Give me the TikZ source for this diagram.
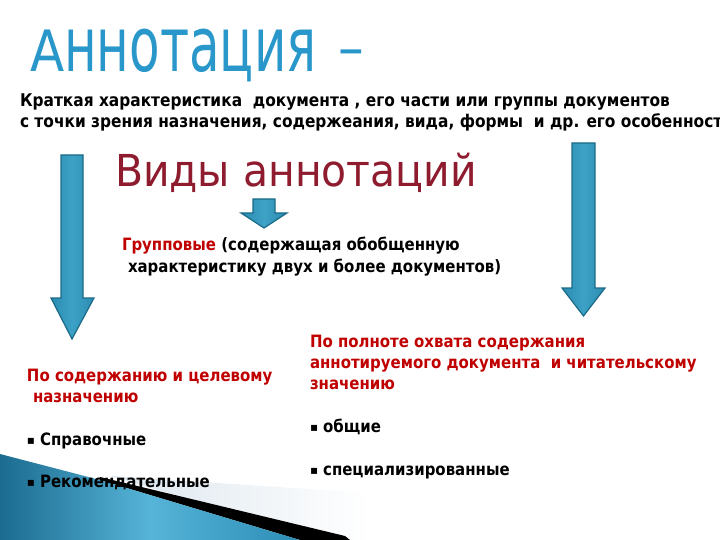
\documentclass[tikz,border=0pt]{standalone}
\usepackage{fontspec}
\setmainfont{DejaVu Sans}
\newfontfamily\titlefont{DejaVu Sans}
\newfontfamily\bodyfont{DejaVu Sans}[FakeStretch=0.88]
\newfontfamily\bulletfont{DejaVu Sans}
\definecolor{titleblue}{HTML}{2A97CB}
\definecolor{headred}{HTML}{8E1B2E}
\definecolor{accent}{HTML}{C00000}
\definecolor{arrowfill}{HTML}{2A8CB0}
\definecolor{arrowlight}{HTML}{3DA2C6}
\definecolor{arrowedge}{HTML}{1B6A87}
\definecolor{bandgrey}{HTML}{DCE6EE}
\definecolor{decodark}{HTML}{1B6C90}
\definecolor{decomid}{HTML}{56B4D8}
\definecolor{decoright}{HTML}{2D8DB5}
\tikzset{
  blockarrow/.style={left color=arrowfill, right color=arrowfill, middle color=arrowlight, draw=arrowedge, line width=1.2pt, line join=miter},
  txt/.style={anchor=base west, inner sep=0pt, outer sep=0pt},
  topline/.style={txt, font=\bodyfont\bfseries\fontsize{17.5}{20}\selectfont},
  body/.style={txt, font=\bodyfont\bfseries\fontsize{17}{20}\selectfont},
}
\newcommand{\sqb}{{\bulletfont\fontsize{12}{14}\selectfont\raisebox{1pt}{▪}}\hspace{5pt}}
\begin{document}
\begin{tikzpicture}[x=1pt,y=-1pt]
\useasboundingbox (0,0) rectangle (720,540);
\clip (0,0) rectangle (720,540);
\fill[white] (0,0) rectangle (720,540);

% bottom-left decoration
\shade[left color=bandgrey, right color=white] (110,476) -- (370,493) -- (370,540) -- (330,540) -- cycle;
\fill[black] (100,477) -- (345,536) -- (350,540) -- (300,540) -- (100,480) -- cycle;
\shade[left color=decodark, right color=decoright, middle color=decomid]
  (0,454) -- (100,480) -- (300,540) -- (0,540) -- cycle;

% title
\node[txt, text=titleblue, font=\titlefont\fontsize{57}{60}\selectfont] (title) at (30,72)
  {\scalebox{0.877}[1]{А\scalebox{1}[1.33]{ннотация}}\hspace{22pt}\raisebox{4pt}{\scalebox{0.9}[1]{–}}};

% definition
\node[topline] (def1) at (20,107) {Краткая характеристика\ \ документа , его части или группы документов};
\node[topline] (def2) at (20,128) {с точки зрения назначения, содержеания, вида, формы\ \ и др. его особенности};

% heading
\node[txt, text=headred, font=\fontsize{44}{48}\selectfont] (kinds) at (115,187) {\scalebox{0.93}[1]{Виды аннотаций}};

% arrows
\path[blockarrow] (61,155) -- (83,155) -- (83,298) -- (94,298) -- (72,339) -- (51,298) -- (61,298) -- cycle;
\path[blockarrow] (572,143) -- (595,143) -- (595,288) -- (605,288) -- (583.5,316) -- (562,288) -- (572,288) -- cycle;
\path[blockarrow] (253,199) -- (275,199) -- (275,213) -- (287,213) -- (264,228) -- (241,213) -- (253,213) -- cycle;

% group
\node[body] (grp1) at (122,250) {\textcolor{accent}{Групповые} (содержащая обобщенную};
\node[body] (grp2) at (128,272) {характеристику двух и более документов)};

% left column
\node[body, text=accent] (l1) at (27,381) {По содержанию и целевому};
\node[body, text=accent] (l2) at (33,402) {назначению};
\node[body] (l3) at (27,445) {\sqb Справочные};
\node[body] (l4) at (27,487) {\sqb Рекомендательные};

% right column
\node[body, text=accent] (r1) at (310,347) {По полноте охвата содержания};
\node[body, text=accent] (r2) at (310,368) {аннотируемого документа\ \ и читательскому};
\node[body, text=accent] (r3) at (310,389) {значению};
\node[body] (r4) at (310,432) {\sqb общие};
\node[body] (r5) at (310,475) {\sqb специализированные};
\end{tikzpicture}
\end{document}
